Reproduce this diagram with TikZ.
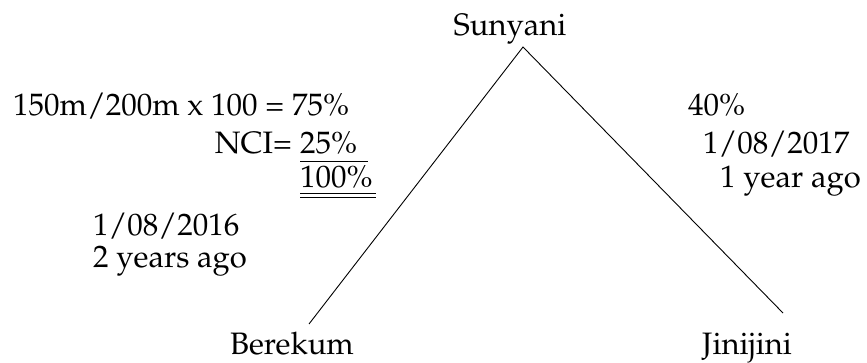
\documentclass[tikz,border=0pt]{standalone}
\usepackage[T1]{fontenc}
\usepackage{palatino}
\begin{document}
\begin{tikzpicture}[x=1pt,y=-1pt,
  lbl/.style={anchor=base west,inner sep=0pt,font=\fontsize{31}{36}\selectfont},
  edge/.style={line width=0.9pt}]
\useasboundingbox (0,0) rectangle (867,363);
\node[lbl,anchor=base] (sun) at (510,36) {Sunyani};
\node[lbl] (ber) at (230,354) {Berekum};
\node[lbl] (jin) at (702,354) {Jinijini};
\coordinate (apex) at (523,47);
\coordinate (lend) at (309,324);
\coordinate (rend) at (783,313);
\draw[edge] (lend) -- (apex) -- (rend);
\node[lbl] (calc) at (13,116) {150m/200m x 100 = 75\%};
\node[lbl,anchor=base east] (nci) at (292,154) {NCI=};
\node[lbl] (p25) at (300,154) {25\%};
\node[lbl] (p100) at (300,188) {100\%};
\coordinate (u1a) at (300,161);
\coordinate (u1b) at (368,161);
\draw[edge] (u1a) -- (u1b);
\coordinate (u2a) at (300,193);
\coordinate (u2b) at (376,193);
\coordinate (u3a) at (300,197);
\coordinate (u3b) at (376,197);
\draw[line width=0.7pt] (u2a) -- (u2b) (u3a) -- (u3b);
\node[lbl] (d16) at (93,236) {1/08/2016};
\node[lbl] (y2) at (93,268) {2 years ago};
\node[lbl] (p40) at (688,116) {40\%};
\node[lbl] (d17) at (703,154) {1/08/2017};
\node[lbl] (y1) at (720,188) {1 year ago};
\end{tikzpicture}
\end{document}
